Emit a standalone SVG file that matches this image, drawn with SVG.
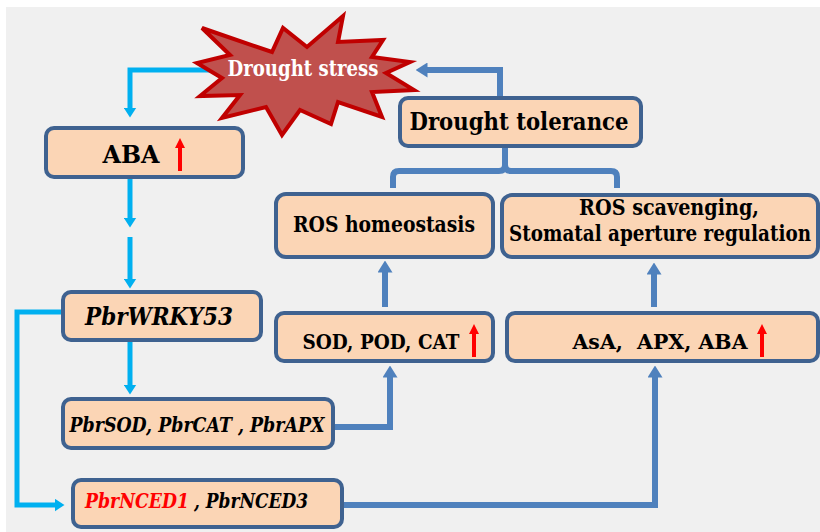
<svg xmlns="http://www.w3.org/2000/svg" width="820" height="532" viewBox="0 0 820 532">
<defs>
<style>
.box{fill:#FBD5B5;stroke:#3F6290;stroke-width:4}
text{font-family:"DejaVu Serif","Liberation Serif",serif;font-weight:bold}
.t{fill:#000;text-anchor:middle}
.i{font-style:italic}
.lb{fill:none;stroke:#00B0F0;stroke-width:5}
.db{fill:none;stroke:#4F81BD;stroke-width:6}
.up{fill:#FF0000}
</style>
<marker id="ml" viewBox="0 0 10 13" refX="0.5" refY="6.5" markerWidth="10" markerHeight="13" markerUnits="userSpaceOnUse" orient="auto">
<path d="M0,0 L10,6.5 L0,13 z" fill="#00B0F0"/>
</marker>
<marker id="md" viewBox="0 0 12 15" refX="0.5" refY="7.5" markerWidth="12" markerHeight="15" markerUnits="userSpaceOnUse" orient="auto">
<path d="M0,0 L12,7.5 L0,15 z" fill="#4F81BD"/>
</marker>
<path id="redup" d="M-2,33 V10 H-5 L0,0 L5,10 H2 V33 z"/>
</defs>
<rect x="0" y="0" width="820" height="532" fill="#FFFFFF"/>
<rect x="6" y="7" width="814" height="525" fill="#F0F0F0"/>

<g id="connectors">
<path class="lb" d="M216,70 H130 V108" marker-end="url(#ml)"/>
<path class="lb" d="M130,177 V218" marker-end="url(#ml)"/>
<path class="lb" d="M130,237 V279" marker-end="url(#ml)"/>
<path class="lb" d="M130,340 V385" marker-end="url(#ml)"/>
<path class="lb" d="M61,312 H17 V505 H55" marker-end="url(#ml)"/>
<path class="db" d="M335,427 H390 V377" marker-end="url(#md)"/>
<path class="db" d="M385,307 V272" marker-end="url(#md)"/>
<path class="db" d="M344,505 H655 V377" marker-end="url(#md)"/>
<path class="db" d="M654,307 V274" marker-end="url(#md)"/>
<path class="db" d="M500,98 V70 H427" marker-end="url(#md)"/>
<path class="db" d="M393,188 V177 Q393,171 399,171 H499 Q505,171 505,165 V146 M505,165 Q505,171 511,171 H611 Q617,171 617,177 V188"/>
</g>

<g id="drought-stress">
<path d="M202,28 L272,52 L283,28 L307,47 L343,16 L338,42 L383,40 L372,57 L410,62 L386,73 L414,90 L372,92 L382,117 L338,102 L331,124 L300,110 L282,135 L266,107 L222,118 L240,95 L200,96 L222,78 L197,63 L230,55 z" fill="#C0504D" stroke="#C00000" stroke-width="4" stroke-linejoin="miter"/>
<text x="303" y="76" font-size="23" textLength="151" lengthAdjust="spacingAndGlyphs" fill="#FFFFFF" text-anchor="middle">Drought stress</text>
</g>

<g id="aba">
<rect class="box" x="46" y="128" width="197" height="49" rx="8"/>
<text class="t" x="131" y="163" font-size="24" textLength="57" lengthAdjust="spacingAndGlyphs">ABA</text>
<use href="#redup" x="180" y="138" class="up"/>
</g>

<g id="pbrwrky53">
<rect class="box" x="63" y="292" width="198" height="48" rx="8"/>
<text class="t i" x="159" y="325" font-size="24" textLength="148" lengthAdjust="spacingAndGlyphs">PbrWRKY53</text>
</g>

<g id="pbrsod">
<rect class="box" x="63" y="399" width="270" height="49" rx="8"/>
<text class="t i" x="197" y="432" font-size="20" textLength="255" lengthAdjust="spacingAndGlyphs">PbrSOD, PbrCAT , PbrAPX</text>
</g>

<g id="pbrnced">
<rect class="box" x="73" y="480" width="269" height="47" rx="8"/>
<text class="i" x="85" y="508" font-size="20" textLength="104" lengthAdjust="spacingAndGlyphs" fill="#FF0000">PbrNCED1</text>
<text class="i" x="194" y="508" font-size="20" textLength="114" lengthAdjust="spacingAndGlyphs" fill="#000000">, PbrNCED3</text>
</g>

<g id="drought-tolerance">
<rect class="box" x="400" y="98" width="241" height="48" rx="8"/>
<text class="t" x="519" y="130" font-size="25" textLength="219" lengthAdjust="spacingAndGlyphs">Drought tolerance</text>
</g>

<g id="ros-homeostasis">
<rect class="box" x="276" y="194" width="217" height="63" rx="10"/>
<text class="t" x="384" y="232" font-size="22" textLength="182" lengthAdjust="spacingAndGlyphs">ROS homeostasis</text>
</g>

<g id="ros-scavenging">
<rect class="box" x="502" y="195" width="316" height="62" rx="10"/>
<text class="t" x="669" y="215" font-size="22" textLength="180" lengthAdjust="spacingAndGlyphs">ROS scavenging,</text>
<text class="t" x="660" y="241" font-size="22" textLength="302" lengthAdjust="spacingAndGlyphs">Stomatal aperture regulation</text>
</g>

<g id="sod-pod-cat">
<rect class="box" x="276" y="313" width="217" height="48" rx="8"/>
<text class="t" x="381" y="349" font-size="20" textLength="157" lengthAdjust="spacingAndGlyphs">SOD, POD, CAT</text>
<use href="#redup" x="474" y="324" class="up"/>
</g>

<g id="asa-apx-aba">
<rect class="box" x="507" y="313" width="311" height="48" rx="8"/>
<text class="t" x="660" y="349" font-size="20" textLength="175" lengthAdjust="spacingAndGlyphs" xml:space="preserve">AsA,  APX, ABA</text>
<use href="#redup" x="762" y="324" class="up"/>
</g>
</svg>
